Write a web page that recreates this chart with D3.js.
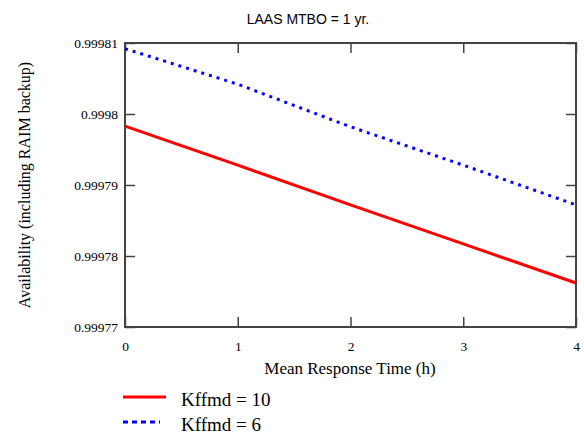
<!DOCTYPE html>
<html>
<head>
<meta charset="utf-8">
<script src="https://cdn.jsdelivr.net/npm/d3@7"></script>
<style>
  body { margin: 0; background: #fff; }
  svg { display: block; }
  .tick text { font-family: "Liberation Serif", "Times New Roman", serif; font-size: 13.5px; fill: #000; }
  .tick line { stroke: #444; stroke-width: 1.5; }
</style>
</head>
<body>
<div class="chart-container"></div>
<script>
// hours of mean response time
const hours = [0, 1, 2, 3, 4];
// availability
const kffmd10 = [0.9997983, 0.9997928, 0.9997872, 0.9997817, 0.9997762];
const kffmd6 = [0.9998092, 0.9998042, 0.9997982, 0.9997928, 0.9997872];
const seriesNames = ['Kffmd = 10', 'Kffmd = 6'];
const yTicks = [0.99977, 0.99978, 0.99979, 0.9998, 0.99981];
const xTicks = [0, 1, 2, 3, 4];

const width = 584, height = 435;
const margin = {top: 43, right: 8, bottom: 108, left: 125};

const svg = d3.select('.chart-container').append('svg')
    .attr('width', width)
    .attr('height', height);

const x = d3.scaleLinear()
    .domain([0, 4])
    .range([margin.left, width - margin.right]);

const y = d3.scaleLinear()
    .domain([0.99977, 0.99981])
    .range([height - margin.bottom, margin.top]);

const serif = '"Liberation Serif", "Times New Roman", serif';

// title
svg.append('text')
    .attr('x', 308).attr('y', 24)
    .attr('text-anchor', 'middle')
    .style('font-family', '"Liberation Sans", Arial, sans-serif')
    .style('font-size', '14px')
    .text('LAAS MTBO = 1 yr.');

// axes, ticks point inward on all four sides
const axes = svg.append('g').attr('id', 'axes');

axes.append('g')
    .attr('transform', 'translate(0,' + y.range()[0] + ')')
    .call(d3.axisBottom(x).tickValues(xTicks).tickFormat(d3.format('d'))
        .tickSizeInner(-10).tickSizeOuter(0).tickPadding(14))
    .call(g => g.select('.domain').remove());

axes.append('g')
    .attr('transform', 'translate(0,' + y.range()[1] + ')')
    .call(d3.axisTop(x).tickValues(xTicks).tickFormat('')
        .tickSizeInner(-10).tickSizeOuter(0))
    .call(g => g.select('.domain').remove());

axes.append('g')
    .attr('transform', 'translate(' + x.range()[0] + ',0)')
    .call(d3.axisLeft(y).tickValues(yTicks).tickFormat(d => d3.format('.5f')(d).replace(/0+$/, ''))
        .tickSizeInner(-10).tickSizeOuter(0).tickPadding(7))
    .call(g => g.select('.domain').remove());

axes.append('g')
    .attr('transform', 'translate(' + x.range()[1] + ',0)')
    .call(d3.axisRight(y).tickValues(yTicks).tickFormat('')
        .tickSizeInner(-10).tickSizeOuter(0))
    .call(g => g.select('.domain').remove());

// frame
svg.append('rect')
    .attr('x', x.range()[0]).attr('y', y.range()[1])
    .attr('width', x.range()[1] - x.range()[0])
    .attr('height', y.range()[0] - y.range()[1])
    .attr('fill', 'none')
    .attr('stroke', '#444')
    .attr('stroke-width', 2);

// lines
const line = d3.line()
    .x((d, i) => x(hours[i]))
    .y(d => y(d));

svg.append('path')
    .datum(kffmd6)
    .attr('d', line)
    .attr('fill', 'none')
    .attr('stroke', '#0000ff')
    .attr('stroke-width', 3)
    .attr('stroke-dasharray', '3,5');

svg.append('path')
    .datum(kffmd10)
    .attr('d', line)
    .attr('fill', 'none')
    .attr('stroke', '#ff0000')
    .attr('stroke-width', 3);

// axis titles
svg.append('text')
    .attr('x', 350).attr('y', 374)
    .attr('text-anchor', 'middle')
    .style('font-family', serif)
    .style('font-size', '17px')
    .text('Mean Response Time (h)');

svg.append('text')
    .attr('transform', 'translate(30,185) rotate(-90)')
    .attr('text-anchor', 'middle')
    .style('font-family', serif)
    .style('font-size', '16px')
    .text('Availability (including RAIM backup)');

// legend
const legend = svg.append('g').attr('id', 'legend');
const legendStyles = [
    {color: '#ff0000', dash: null, len: 43},
    {color: '#0000ff', dash: '5,4', len: 37}
];
seriesNames.forEach((name, i) => {
    const ly = 397 + i * 25;
    legend.append('line')
        .attr('x1', 123).attr('x2', 123 + legendStyles[i].len)
        .attr('y1', ly).attr('y2', ly)
        .attr('stroke', legendStyles[i].color)
        .attr('stroke-width', 3)
        .attr('stroke-dasharray', legendStyles[i].dash);
    legend.append('text')
        .attr('x', 181).attr('y', ly + 9)
        .style('font-family', serif)
        .style('font-size', '19px')
        .text(name);
});
</script>
</body>
</html>
